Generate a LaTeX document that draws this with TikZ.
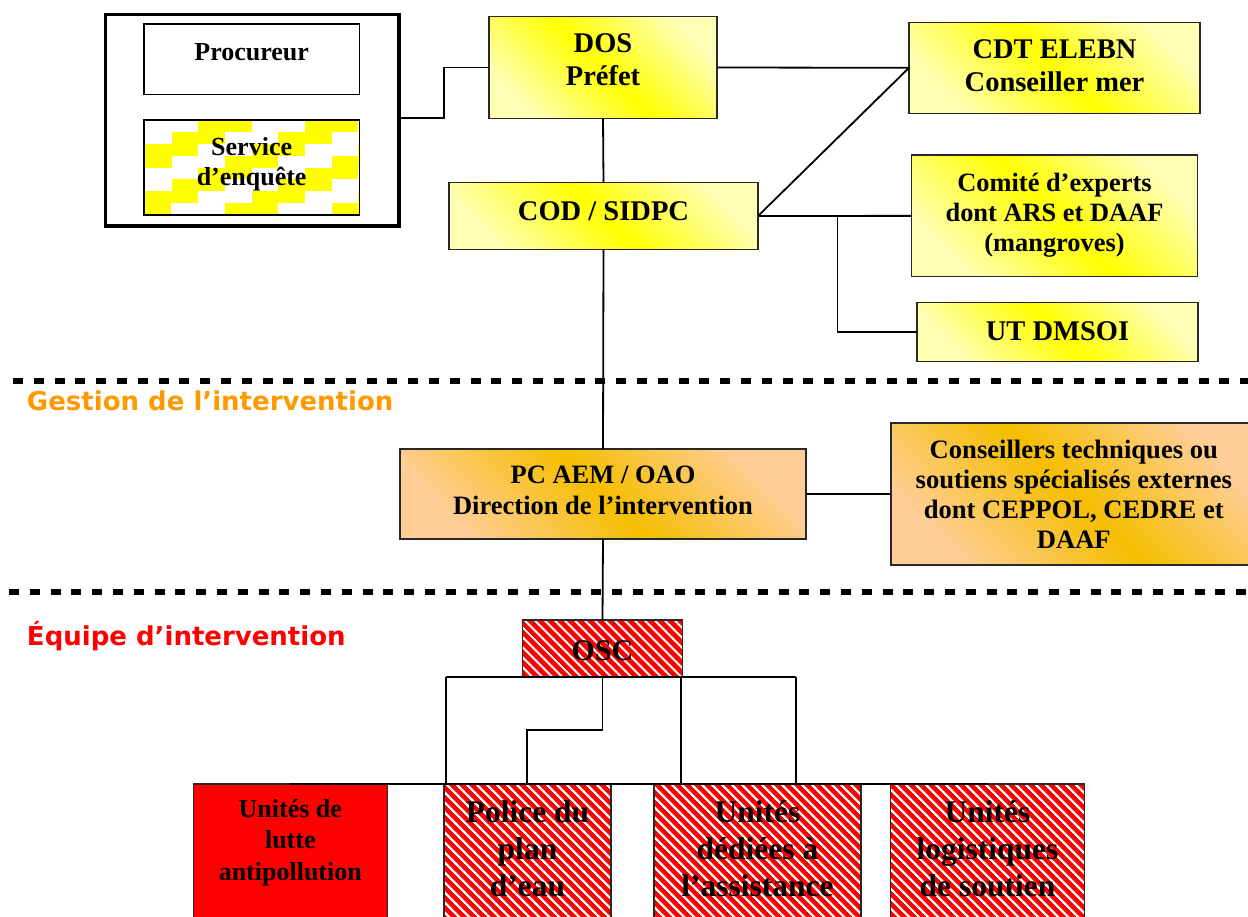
\documentclass[tikz,border=0pt]{standalone}
\usepackage{fontspec}
\setmainfont{Liberation Serif}
\newfontfamily\labelfont{DejaVu Sans}
\usetikzlibrary{patterns.meta}

\definecolor{ylight}{RGB}{255,255,180}
\definecolor{ybright}{RGB}{255,255,0}
\definecolor{opeach}{RGB}{255,206,150}
\definecolor{ogold}{RGB}{245,190,0}
\definecolor{gestion}{RGB}{255,153,0}
\definecolor{equipe}{RGB}{255,0,0}
\definecolor{edge}{RGB}{40,40,40}

\tikzset{
  every node/.style={outer sep=0pt},
  frame/.style={draw=edge, line width=1.4pt, inner sep=0pt},
  plainbox/.style={draw=black, line width=1.2pt, inner sep=0pt},
  yellowbox/.style={frame, top color=ylight, bottom color=ylight, middle color=ybright, shading angle=-45},
  orangebox/.style={frame, top color=opeach, bottom color=opeach, middle color=ogold, shading angle=-45},
  hatchbox/.style={frame, preaction={fill=red}, pattern={Lines[angle=-45,distance=6.9pt,line width=2.2pt]}, pattern color=white},
  redbox/.style={frame, fill=red},
  txtA/.style={inner sep=0pt, align=center, font=\fontsize{26}{30}\selectfont\bfseries},
  txtB/.style={inner sep=0pt, align=center, font=\fontsize{28.5}{33}\selectfont\bfseries},
  txtC/.style={inner sep=0pt, align=center, font=\fontsize{31.5}{37}\selectfont\bfseries},
  link/.style={draw=black, line width=1.8pt},
  sepline/.style={draw=black, line width=5.7pt, dash pattern=on 10pt off 10.8pt},
  zonelabel/.style={inner sep=0pt, anchor=base west, font=\fontsize{26}{30}\selectfont\labelfont\bfseries},
}

\begin{document}
\begin{tikzpicture}[x=1pt,y=-1pt]
\useasboundingbox (0,0) rectangle (1248,916);
\clip (0,0) rectangle (1248,916);

% zone separators and their titles
\draw[sepline] (13,381) -- (1248,381);
\draw[sepline] (9,592) -- (1248,592);
\node[zonelabel, text=gestion] (zone-gestion) at (27,410) {Gestion de l’intervention};
\node[zonelabel, text=equipe] (zone-equipe) at (27,645.7) {Équipe d’intervention};

% judicial block
\node[draw=black, line width=3.5pt, inner sep=0pt, minimum width=293.5pt, minimum height=211.7pt] (jud) at (252.25,120.15) {};
\node[plainbox, fill=white, minimum width=215.3pt, minimum height=70.3pt] (proc) at (251.65,59.15) {};
\node[txtA, anchor=base] (proc-t) at (251.65,60.7) {Procureur};
\begin{scope}
  \clip (144,120) rectangle (359.3,215);
  \fill[white] (144,120) rectangle (359.3,215);
  \foreach \k in {0,...,7} {
    \foreach \n in {-1,0,1,2,3} {
      \fill[ybright] ({198.3-26.7*\k+106.7*\n},{120+11.875*\k}) rectangle ++(53.3,11.875);
    }
  }
\end{scope}
\node[plainbox, minimum width=215.3pt, minimum height=95pt] (svc) at (251.65,167.5) {};
\node[txtA] (svc-t) at (251.65,163.9) {Service\\d’enquête};

% prefecture level
\node[yellowbox, minimum width=228pt, minimum height=101.6pt] (dos) at (603,67.5) {};
\node[txtB] (dos-t) at (603,60.2) {DOS\\Préfet};
\node[yellowbox, minimum width=291pt, minimum height=91pt] (cdt) at (1054.5,67.8) {};
\node[txtB] (cdt-t) at (1054.5,65.5) {CDT ELEBN\\Conseiller mer};
\node[yellowbox, minimum width=309pt, minimum height=66.6pt] (cod) at (603.5,216) {};
\node[txtB, anchor=base] (cod-t) at (603.5,220) {COD / SIDPC};
\node[yellowbox, minimum width=286pt, minimum height=121.7pt] (com) at (1054.5,215.85) {};
\node[txtA, font=\fontsize{26.4}{30}\selectfont\bfseries] (com-t) at (1054.5,215.3) {Comité d’experts\\dont ARS et DAAF\\(mangroves)};
\node[yellowbox, minimum width=281pt, minimum height=59pt] (ut) at (1057.5,332.2) {};
\node[txtB, anchor=base] (ut-t) at (1057.5,340) {UT DMSOI};

% intervention management
\node[orangebox, minimum width=406pt, minimum height=90pt] (pc) at (603,494) {};
\node[txtA, font=\fontsize{26.5}{31}\selectfont\bfseries] (pc-t) at (603,490) {PC AEM / OAO\\Direction de l’intervention};
\node[orangebox, minimum width=365.6pt, minimum height=141.7pt] (cons) at (1073.8,494) {};
\node[txtA, font=\fontsize{26.6}{30}\selectfont\bfseries] (cons-t) at (1073.8,494.2) {Conseillers techniques ou\\soutiens spécialisés externes\\dont CEPPOL, CEDRE et\\DAAF};

% intervention team
\node[hatchbox, minimum width=160.4pt, minimum height=56.7pt] (osc) at (602.5,648.35) {};
\node[inner sep=0pt, font=\fontsize{30}{34}\selectfont\bfseries, anchor=base] (osc-t) at (602.5,660) {OSC};
\node[redbox, minimum width=194pt, minimum height=156pt] (lutte) at (290.3,862) {};
\node[txtA, font=\fontsize{26}{31.5}\selectfont\bfseries] (lutte-t) at (290.3,842.5) {Unités de\\lutte\\antipollution};
\node[hatchbox, minimum width=167pt, minimum height=156pt] (pol) at (527.5,862) {};
\node[txtC] (pol-t) at (527.5,849) {Police du\\plan\\d’eau};
\node[hatchbox, minimum width=207pt, minimum height=156pt] (ded) at (757.5,862) {};
\node[txtC] (ded-t) at (757.5,849) {Unités\\dédiées à\\l’assistance};
\node[hatchbox, minimum width=193.6pt, minimum height=156pt] (logi) at (987.5,862) {};
\node[txtC] (logi-t) at (987.5,849) {Unités\\logistiques\\de soutien};

% connectors, upper part
\draw[link] ([yshift=1.85pt]jud.east) -- ++(45,0) |- (dos.west);
\draw[link] (dos.east) -- (cdt.west);
\draw[link] (dos.south) -- (cod.north);
\draw[link] (cod.east) -- (cdt.west);
\draw[link] (cod.east) -- (com.west);
\coordinate (fork) at (837.4,216);
\draw[link] (fork) |- (ut.west);
\draw[link] (cod.south) -- (pc.north);
\draw[link] (pc.east) -- (cons.west);
\draw[link] (pc.south) -- (osc.north);

% connectors, team tree
\coordinate (busL) at (446,676.7);
\coordinate (busR) at (795.7,676.7);
\coordinate (busM) at (681,676.7);
\coordinate (jog) at (526.7,730);
\draw[link] (busL) -- (busR);
\draw[link] (busL) -- (busL |- pol.north);
\draw[link] (busM) -- (busM |- ded.north);
\draw[link] (busR) -- (busR |- ded.north);
\draw[link] (osc.south) -- (osc.south |- jog) -- (jog) -- (jog |- pol.north);
\draw[link] (lutte.north) -- (logi.north);
\end{tikzpicture}
\end{document}
